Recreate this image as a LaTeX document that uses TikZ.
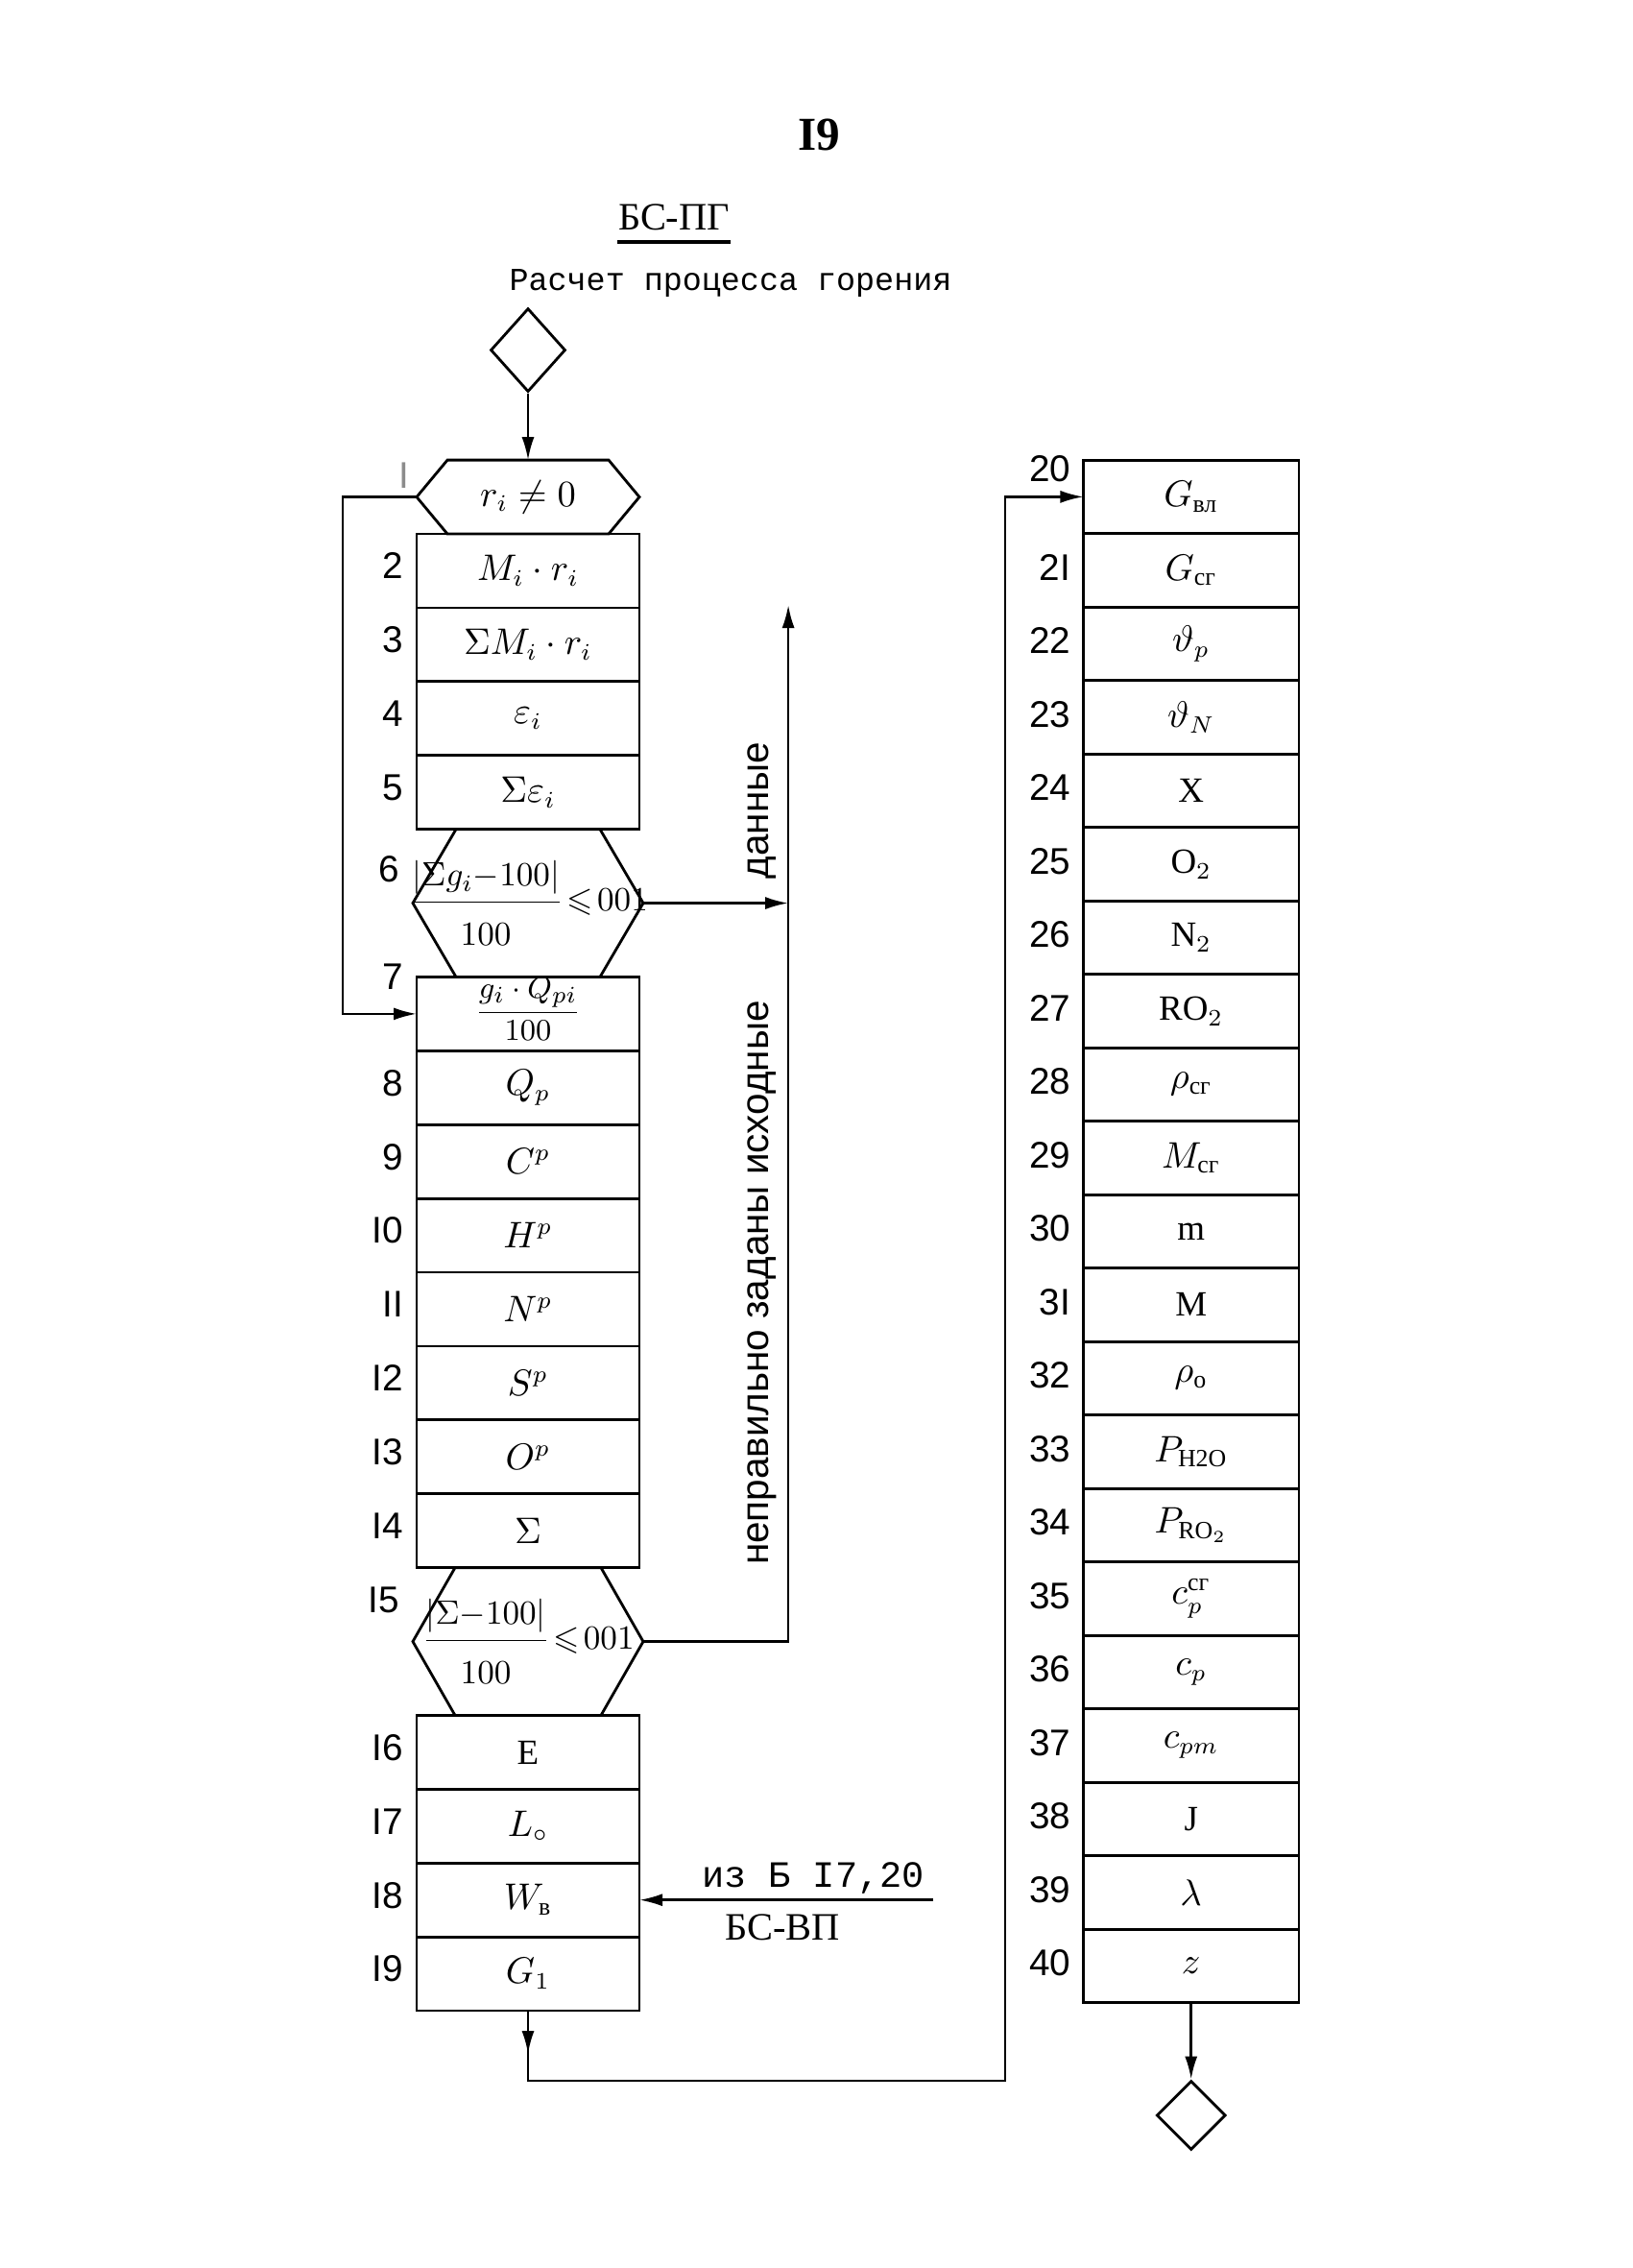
\documentclass[tikz,border=0pt]{standalone}
\usepackage{amsmath}
\usepackage{amssymb}
\usepackage{fontspec}
\setmainfont{Liberation Serif}
\newfontfamily\twfont{Liberation Mono}
\newfontfamily\sffnt{Liberation Sans}
\usepackage{tikz}
\usetikzlibrary{positioning, shapes.geometric, arrows.meta, calc}

\begin{document}
\begin{tikzpicture}[
  font=\fontsize{10.5}{12}\selectfont,
  node distance=0pt,
  line width=0.7pt,
  >={Latex[length=2.4mm,width=1.3mm]},
  blk/.style={
    draw, line width=0.8pt,
    minimum width=23.2mm, minimum height=7.69mm,
    inner sep=0pt, outer sep=0pt
  },
  rblk/.style={blk, minimum width=22.45mm, minimum height=7.65mm},
  hexf/.style={
    minimum width=24mm, minimum height=15.38mm,
    inner sep=0pt, outer sep=0pt,
    font=\fontsize{10}{12}\selectfont
  },
  term/.style={draw, diamond, line width=0.8pt, inner sep=0pt},
  num/.style={font=\sffnt\fontsize{11}{12}\selectfont, anchor=east, inner sep=0pt}
]
\useasboundingbox (0,0) rectangle (17.01,-23.62);

% titles
\node[font=\bfseries\fontsize{14}{15}\selectfont] (pg) at (8.53,-1.40) {I9};
\node[font=\fontsize{11.5}{12}\selectfont, inner sep=0pt] (bspg) at (7.02,-2.26) {БС-ПГ};
\draw[line width=1.3pt] ([yshift=-1.1mm]bspg.south west) -- ([yshift=-1.1mm]bspg.south east);
\node[font=\twfont\fontsize{9.5}{11}\selectfont] (ttl) at (7.61,-2.95) {Расчет процесса горения};

% left column
\node[term, minimum width=7.8mm, minimum height=8.7mm] (beg) at (5.50,-3.646) {};
\node[hexf, minimum width=23.2mm, minimum height=7.69mm, font=\fontsize{10.5}{12}\selectfont] (h1) at (5.50,-5.176) {$r_i\neq 0$};
\node[blk, below=of h1] (b2) {$M_i\cdot r_i$};
\node[blk, below=of b2] (b3) {$\Sigma M_i\cdot r_i$};
\node[blk, below=of b3] (b4) {$\varepsilon_i$};
\node[blk, below=of b4] (b5) {$\Sigma\varepsilon_i$};
\node[hexf, below=of b5] (h6) {\makebox[0pt]{$\dfrac{|\Sigma g_i{-}100|\rule[-1.2mm]{0pt}{1mm}}{\rule{0pt}{4mm}100}\!\leqslant\!001$}};
\node[blk, below=of h6, font=\fontsize{9.5}{11}\selectfont] (b7) {\raisebox{-3.6pt}{\smash{$\dfrac{g_i\cdot Q_{pi}}{100}$}}};
\node[blk, below=of b7] (b8) {$Q_p$};
\node[blk, below=of b8] (b9) {$C^p$};
\node[blk, below=of b9] (b10) {$H^p$};
\node[blk, below=of b10] (b11) {$N^p$};
\node[blk, below=of b11] (b12) {$S^p$};
\node[blk, below=of b12] (b13) {$O^p$};
\node[blk, below=of b13] (b14) {$\Sigma$};
\node[hexf, below=of b14] (h15) {\makebox[0pt]{$\dfrac{|\Sigma{-}100|\rule[-1.2mm]{0pt}{1mm}}{\rule{0pt}{4mm}100}\!\leqslant\!001$}};
\node[blk, below=of h15] (b16) {E};
\node[blk, below=of b16] (b17) {$L_\circ$};
\node[blk, below=of b17] (b18) {$W_{\text{в}}$};
\node[blk, below=of b18] (b19) {$G_1$};

% hexagon outlines
\foreach \h/\d in {h1/3.2mm, h6/4.5mm, h15/4.4mm}
  \draw[line width=0.8pt] ([xshift=\d]\h.north west) -- ([xshift=-\d]\h.north east) -- (\h.east)
    -- ([xshift=-\d]\h.south east) -- ([xshift=\d]\h.south west) -- (\h.west) -- cycle;

% right column
\node[rblk] (b20) at (12.407,-5.174) {$G_{\text{вл}}$};
\node[rblk, below=of b20] (b21) {$G_{\text{сг}}$};
\node[rblk, below=of b21] (b22) {$\vartheta_p$};
\node[rblk, below=of b22] (b23) {$\vartheta_N$};
\node[rblk, below=of b23] (b24) {X};
\node[rblk, below=of b24] (b25) {O$_2$};
\node[rblk, below=of b25] (b26) {N$_2$};
\node[rblk, below=of b26] (b27) {RO$_2$};
\node[rblk, below=of b27] (b28) {$\rho_{\text{сг}}$};
\node[rblk, below=of b28] (b29) {$M_{\text{сг}}$};
\node[rblk, below=of b29] (b30) {m};
\node[rblk, below=of b30] (b31) {M};
\node[rblk, below=of b31] (b32) {$\rho_{\mathrm{o}}$};
\node[rblk, below=of b32] (b33) {$P_{\mathrm{H2O}}$};
\node[rblk, below=of b33] (b34) {$P_{\mathrm{RO}_2}$};
\node[rblk, below=of b34] (b35) {$c_p^{\text{сг}}$};
\node[rblk, below=of b35] (b36) {$c_p$};
\node[rblk, below=of b36] (b37) {$c_{pm}$};
\node[rblk, below=of b37] (b38) {J};
\node[rblk, below=of b38] (b39) {$\lambda$};
\node[rblk, below=of b39] (b40) {$z$};
\node[term, minimum width=7.2mm, minimum height=7.2mm] (fin) at (12.407,-22.03) {};

% block numbers
\foreach \n/\t in {b2/2, b3/3, b4/4, b5/5, b8/8, b9/9, b10/I0, b11/II, b12/I2,
                   b13/I3, b14/I4, b16/I6, b17/I7, b18/I8, b19/I9}
  \node[num] at ([xshift=-1.3mm,yshift=0.5mm]\n.west) {\t};
\node[num] at ([xshift=-1.3mm,yshift=-4.2mm]h6.north west) {6};
\node[num] at ([xshift=-1.3mm,yshift=-3.4mm]h15.north west) {I5};
\node[num] at ([xshift=-1.3mm]b7.north west) {7};
\node[num, text=black!45] at ([xshift=-0.7mm,yshift=-1.6mm]h1.north west) {I};
\node[num] at ([xshift=-1.2mm,yshift=-0.9mm]b20.north west) {20};
\foreach \n/\t in {21/2I, 22/22, 23/23, 24/24, 25/25, 26/26, 27/27, 28/28, 29/29, 30/30,
                   31/3I, 32/32, 33/33, 34/34, 35/35, 36/36, 37/37, 38/38, 39/39, 40/40}
  \node[num] at ([xshift=-1.2mm,yshift=0.3mm]b\n.west) {\t};

% connectors
\draw[->] (beg.south) -- (h1.north);
\coordinate (lp) at (3.571,0);
\draw[->] (h1.west) -- (h1.west -| lp) |- (b7.west);

\coordinate (vt) at (8.211,-6.30);
\draw[->] (h6.east) -- (h6.east -| vt);
\draw[->] (h15.east) -- (h15.east -| vt) -- (vt);
\node[rotate=90, font=\sffnt\fontsize{11.5}{12}\selectfont] (dn) at (7.94,-8.44) {данные};
\node[rotate=90, font=\sffnt\fontsize{11.5}{12}\selectfont] (nz) at (7.94,-13.36) {неправильно заданы исходные};

\coordinate (src) at ($(b18.east)+(3.06,0)$);
\draw[->] (src) -- (b18.east);
\node[font=\twfont\fontsize{11}{12}\selectfont] (iz) at (8.47,-19.56) {из Б I7,20};
\node[font=\fontsize{11.5}{12}\selectfont] (bsvp) at (8.15,-20.07) {БС-ВП};

\coordinate (turn) at (10.47,-21.67);
\draw[->] (b19.south) -- ++(0,-0.45);
\draw[->] (b19.south) |- (turn) |- (b20.west);
\draw[->] (b40.south) -- (fin.north);
\end{tikzpicture}
\end{document}
